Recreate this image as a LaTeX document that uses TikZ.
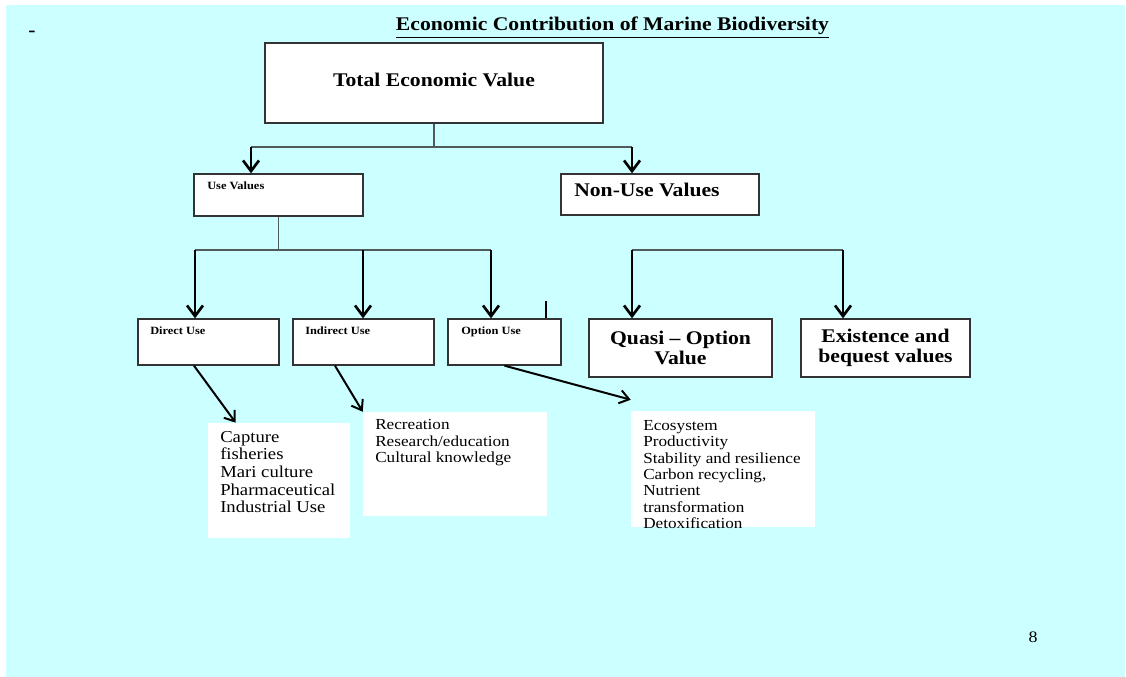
\documentclass[tikz,border=0pt]{standalone}
\usepackage{fontspec}
\setmainfont{Liberation Serif}[FakeStretch=1.12]
\usetikzlibrary{arrows.meta}

\definecolor{slidecyan}{RGB}{204,255,255}
\definecolor{boxgray}{RGB}{51,51,51}
\definecolor{linegray}{RGB}{80,90,90}

\tikzset{
  box/.style={draw=boxgray, line width=1pt, fill=white, inner sep=0pt},
  listbox/.style={fill=white, inner sep=0pt},
  listtxt/.style={align=left, inner sep=0pt, anchor=north west},
  big/.style={font=\bfseries\fontsize{14.5}{15}\selectfont},
  lbl/.style={font=\bfseries\fontsize{8.3}{9}\selectfont, inner sep=0pt, anchor=base west},
  tree/.style={draw=linegray, line width=1.1pt},
  drop/.style={line width=2pt, -{Straight Barb[length=8pt,width=12pt]}},
  slant/.style={line width=1.5pt, -{Straight Barb[length=7pt,width=10pt]}},
}

\begin{document}
\begin{tikzpicture}[x=0.75pt,y=0.75pt,yscale=-1,xscale=1]
%set diagram to the slide size
\fill[white] (0,0) rectangle (1126,677);
\fill[slidecyan] (6,5) rectangle (1125,677);
\useasboundingbox (0,0) rectangle (1126,677);

% Text Node
\node[big, anchor=base] (title) at (612.5,31) {\underline{Economic Contribution of Marine Biodiversity}};
% Text Node
\node[big, anchor=base] (dash) at (32,37) {-};

%Shape: Rectangle
\node[box, big, minimum width=253.5pt, minimum height=60pt, text depth=4.5pt] (tev) at (434,83) {Total Economic Value};
%Shape: Rectangle
\node[box, minimum width=126.75pt, minimum height=31.5pt] (use) at (278.5,195) {};
%Shape: Rectangle
\node[box, minimum width=148.5pt, minimum height=30.75pt] (nonuse) at (660,194.5) {};
%Shape: Rectangle
\node[box, minimum width=105.75pt, minimum height=34.5pt] (direct) at (208.5,342) {};
%Shape: Rectangle
\node[box, minimum width=105.75pt, minimum height=34.5pt] (indirect) at (363.5,342) {};
%Shape: Rectangle
\node[box, minimum width=84.75pt, minimum height=34.5pt] (option) at (504.5,342) {};
%Shape: Rectangle
\node[box, big, align=center, minimum width=137.25pt, minimum height=43.5pt] (quasi) at (680.5,348) {Quasi -- Option\\Value};
%Shape: Rectangle
\node[box, big, align=center, minimum width=126.75pt, minimum height=43.5pt] (exist) at (885.5,348) {Existence and\\bequest values};

%Shape: white text areas
\node[listbox, minimum width=106.5pt, minimum height=86.25pt] (dlist) at (279,480.5) {};
\node[listbox, minimum width=138pt, minimum height=78pt] (ilist) at (455,464) {};
\node[listbox, minimum width=138pt, minimum height=87pt] (olist) at (723,469) {};

% Text Node
\node[lbl] (usetxt) at (207,190) {Use Values};
% Text Node
\node[big, inner sep=0pt, anchor=base west] (nonusetxt) at (574,197) {Non-Use Values};
% Text Node
\node[lbl] (directtxt) at (150,334) {Direct Use};
% Text Node
\node[lbl] (indirecttxt) at (305,334) {Indirect Use};
% Text Node
\node[lbl] (optiontxt) at (461,334) {Option Use};

% Text Node
\node[listtxt, font=\fontsize{12.5}{13.2}\selectfont] (dtxt) at (220,431) {Capture\\fisheries\\Mari culture\\Pharmaceutical\\Industrial Use};
% Text Node
\node[listtxt, font=\fontsize{11.5}{12.5}\selectfont] (itxt) at (375,419) {Recreation\\Research/education\\Cultural knowledge};
% Text Node
\node[listtxt, font=\fontsize{11.5}{12.3}\selectfont] (otxt) at (643,420) {Ecosystem\\Productivity\\Stability and resilience\\Carbon recycling,\\Nutrient\\transformation\\Detoxification};

% Text Node
\node[font=\fontsize{12}{13}\selectfont, anchor=base] (pageno) at (1033,642) {8};

%Straight Lines: top split
\coordinate (tevj) at (434,147);
\coordinate (usej) at (251,147);
\coordinate (nonj) at (632,147);
\draw[tree] (tev.south) -- (tevj);
\draw[tree] (usej) -- (nonj);
\draw[drop] (usej) -- (usej |- use.north);
\draw[drop] (nonj) -- (nonj |- nonuse.north);

%Straight Lines: use values split
\coordinate (dirj) at (195,250);
\coordinate (indj) at (363,250);
\coordinate (optj) at (491,250);
\draw[tree] (use.south) -- (use.south |- dirj);
\draw[tree] (dirj) -- (optj);
\draw[drop] (dirj) -- (dirj |- direct.north);
\draw[drop] (indj) -- (indj |- indirect.north);
\draw[drop] (optj) -- (optj |- option.north);
\coordinate (ostub) at (546,301);
\draw[line width=0.8pt] (ostub) -- (ostub |- option.north);

%Straight Lines: non-use split
\coordinate (quaj) at (632,250);
\coordinate (exij) at (843,250);
\draw[tree] (quaj) -- (exij);
\draw[drop] (quaj) -- (quaj |- quasi.north);
\draw[drop] (exij) -- (exij |- exist.north);

%Straight Lines: to the lists
\draw[slant] ([xshift=-10.9pt]direct.south) -- ([xshift=21pt]dlist.north west);
\draw[slant] ([xshift=-21.4pt]indirect.south) -- (ilist.north west);
\draw[slant] (option.south) -- ([yshift=-8.25pt]olist.north west);

\end{tikzpicture}
\end{document}
